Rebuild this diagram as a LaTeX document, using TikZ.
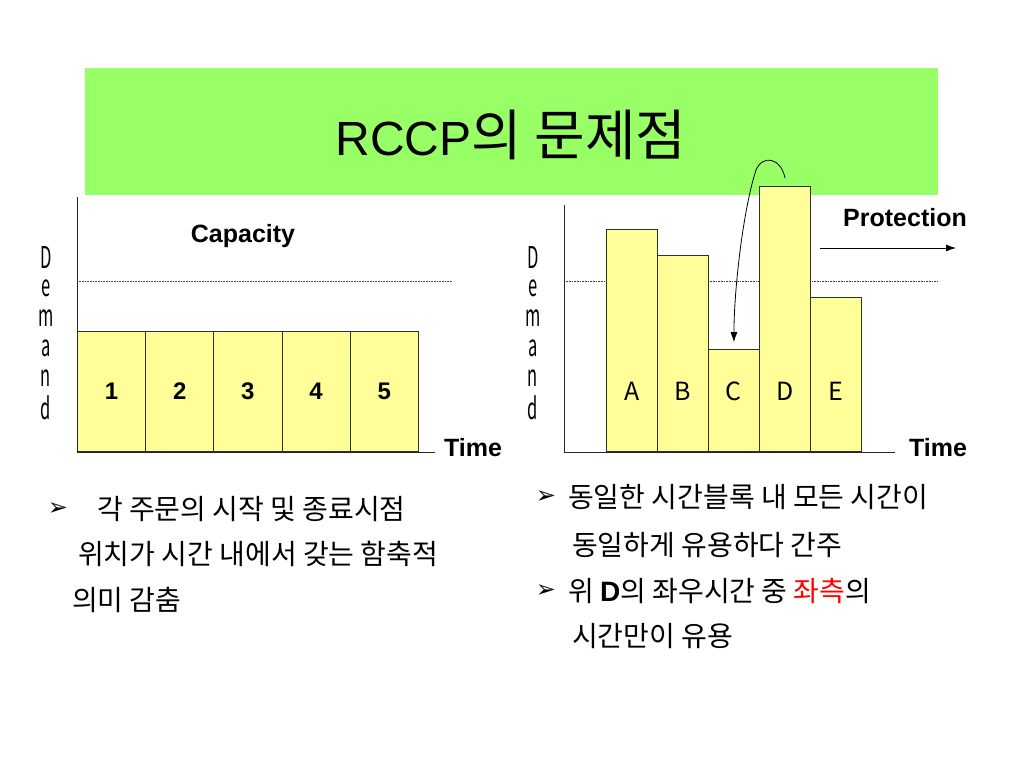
\documentclass[tikz,border=0pt]{standalone}
\usepackage{graphicx}
\usepackage{fontspec}
\setmainfont{Liberation Sans}
\newfontfamily\kor{Noto Sans CJK KR}
\newfontfamily\sym{DejaVu Sans}
\usetikzlibrary{arrows.meta, positioning}
\definecolor{titlegreen}{RGB}{153,255,102}
\definecolor{barfill}{RGB}{255,255,153}
\definecolor{barline}{RGB}{50,50,30}
\definecolor{redword}{RGB}{255,0,0}
\newcommand{\narrow}[1]{\scalebox{0.55}[1]{#1}}

\begin{document}
\begin{tikzpicture}[x=1pt, y=-1pt,
    bar/.style={draw=barline, fill=barfill, line width=0.8pt, anchor=south west, inner sep=0pt},
    axis/.style={draw=black!85, line width=0.8pt},
    capline/.style={densely dotted, line width=0.6pt, black!75},
    head/.style={font=\fontsize{25}{30}\selectfont\bfseries, inner sep=0pt},
    num/.style={font=\fontsize{24}{28}\selectfont\bfseries},
    dem/.style={font=\kor\fontsize{30}{32}\selectfont, inner sep=0pt},
    blk/.style={font=\kor\fontsize{25}{28}\selectfont, inner sep=0pt},
    txt/.style={font=\kor\fontsize{28}{30}\selectfont, anchor=west, inner sep=0pt},
    bul/.style={font=\sym\fontsize{24}{26}\selectfont, inner sep=0pt},
    tip/.style={-{Latex[length=10pt,width=7pt]}, line width=0.8pt}]
    \useasboundingbox[fill=white] (0,0) rectangle (1024,768);

    % Title
    \node[fill=titlegreen, minimum width=853pt, minimum height=127pt, inner sep=0pt] (banner) at (511.5,131.5) {};
    \node[font=\fontsize{48}{52}\selectfont] (title) at (511,135) {RCCP{\kor\fontsize{55}{58}\selectfont 의 문제점}};

    % Left chart
    \draw[capline] (77,281) -- (452,281);
    \foreach \i in {1,...,5}
        \node[bar, num, minimum width=68.2pt, minimum height=120pt] (l\i) at ({77+68.2*(\i-1)},452) {\i};
    \coordinate (lorig) at (77,452);
    \draw[axis] (lorig) -- (77,197);
    \draw[axis] (lorig) -- (435,452);
    \node[head] (lcap) at (243,236) {Capacity};
    \node[head] (ltime) at (473,448) {Time};
    \foreach \c [count=\i] in {D,e,m,a,n,d}
        \node[dem] (ld\i) at (46,{258+30*(\i-1)}) {\narrow{\c}};

    % Right chart
    \draw[capline] (564,281) -- (938,281);
    \coordinate (lblrow) at (0,391);
    \foreach \n/\h [count=\i] in {A/222, B/196, C/102, D/265, E/154} {
        \node[bar, minimum width=51pt, minimum height=\h pt] (r\n) at ({606+51*(\i-1)},452) {};
        \node[blk] (rl\n) at (r\n.south |- lblrow) {\n};
    }
    \coordinate (rorig) at (564,452);
    \draw[axis] (rorig) -- (564,205);
    \draw[axis] (rorig) -- (895,452);
    \node[head] (rprot) at (905,218) {Protection};
    \node[head] (rtime) at (938,448) {Time};
    \foreach \c [count=\i] in {D,e,m,a,n,d}
        \node[dem] (rd\i) at (533,{258+30*(\i-1)}) {\narrow{\c}};
    \coordinate (pstart) at (820,248);
    \coordinate (pend) at (956,248);
    \draw[tip] (pstart) -- (pend);

    % shift of D's time into C
    \coordinate (dtop) at (785,178);
    \draw[tip] (dtop) .. controls (781,158) and (763,154) .. (756,170)
        .. controls (743,210) and (734,290) .. ([yshift=7pt]rC.north);

    % Notes
    \node[bul] (b1) at (58,509) {➢};
    \node[txt] (t1) at (97,509) {각 주문의 시작 및 종료시점};
    \node[txt] (t2) at (78,554) {위치가 시간 내에서 갖는 함축적};
    \node[txt] (t3) at (72,600) {의미 감춤};
    \node[bul] (b2) at (546,497) {➢};
    \node[txt] (t4) at (568,497) {동일한 시간블록 내 모든 시간이};
    \node[txt] (t5) at (572,545) {동일하게 유용하다 간주};
    \node[bul] (b3) at (546,591) {➢};
    \node[txt] (t6) at (568,591) {위 {\normalfont\bfseries D}의 좌우시간 중 {\color{redword}좌측}의};
    \node[txt] (t7) at (572,636) {시간만이 유용};
\end{tikzpicture}
\end{document}
